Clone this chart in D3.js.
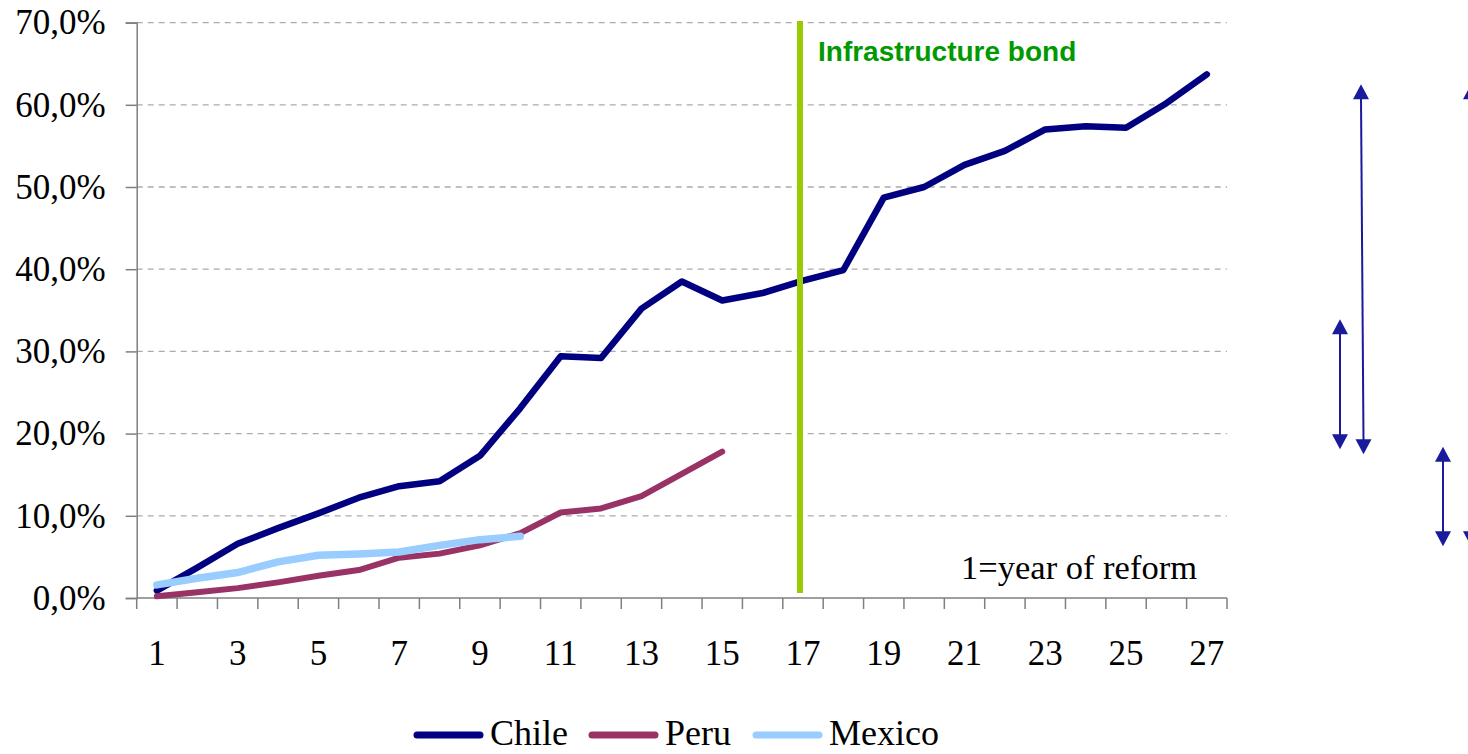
<!DOCTYPE html>
<html>
<head>
<meta charset="utf-8">
<script src="https://cdn.jsdelivr.net/npm/d3@7"></script>
<style>
  html, body { margin: 0; padding: 0; background: #ffffff; }
  svg { display: block; }
</style>
</head>
<body>
<svg id="chart" width="1468" height="754"></svg>
<script>
// Years since pension reform (1 = year of reform)
const years = d3.range(1, 28);

// Pension fund assets as share of GDP
const chile  = [0.009, 0.037, 0.066, 0.085, 0.103, 0.122, 0.136, 0.142, 0.173, 0.231, 0.294, 0.292,
                0.352, 0.385, 0.362, 0.371, 0.386, 0.399, 0.487, 0.500, 0.527, 0.544, 0.570, 0.574,
                0.572, 0.602, 0.637];
const peru   = [0.002, 0.007, 0.012, 0.019, 0.027, 0.034, 0.049, 0.054, 0.064, 0.079, 0.104, 0.109,
                0.124, 0.151, 0.178];
const mexico = [0.016, 0.024, 0.031, 0.044, 0.052, 0.0535, 0.056, 0.064, 0.071, 0.075];

const seriesNames  = ["Chile", "Peru", "Mexico"];
const seriesValues = [chile, peru, mexico];
const seriesColors = ["#000080", "#993366", "#99CCFF"];
const seriesWidths = [6.5, 6, 7.5];

const yTicks = [0, 0.1, 0.2, 0.3, 0.4, 0.5, 0.6, 0.7];
const xLabelYears = years.filter(d => d % 2 === 1);

// Year the infrastructure bond was introduced
const bondYear = 17;
const bondLabel = "Infrastructure bond";
const noteText = "1=year of reform";

// Double-headed range arrows beside the plot (value ranges)
const rangeArrows = [
  { x1: 1361, x2: 1363.5, top: 0.625, bottom: 0.175 },
  { x1: 1340, x2: 1340,   top: 0.339, bottom: 0.181 },
  { x1: 1443, x2: 1443,   top: 0.184, bottom: 0.063 },
  { x1: 1471, x2: 1471,   top: 0.625, bottom: 0.063 }
];

const svg = d3.select("#chart");
const plot = { left: 136.7, right: 1227, top: 22.6, bottom: 598 };

const x = d3.scaleBand().domain(years).range([plot.left, plot.right]).padding(0);
const xc = d => x(d) + x.bandwidth() / 2;
const y = d3.scaleLinear().domain([0, 0.7]).range([plot.bottom, plot.top]);

const serif = "'Liberation Serif', 'Times New Roman', serif";

// Horizontal dashed gridlines
svg.append("g")
  .selectAll("line")
  .data(yTicks.filter(d => d > 0))
  .join("line")
  .attr("x1", plot.left).attr("x2", plot.right)
  .attr("y1", d => y(d)).attr("y2", d => y(d))
  .attr("stroke", "#ababab")
  .attr("stroke-width", 1.3)
  .attr("stroke-dasharray", "6,5");

// Y axis
const yAxis = svg.append("g")
  .attr("transform", `translate(${plot.left},0)`)
  .call(d3.axisLeft(y)
    .tickValues(yTicks)
    .tickSize(11)
    .tickPadding(20)
    .tickFormat(d => (d * 100).toFixed(1).replace(".", ",") + "%"));
yAxis.select(".domain").attr("stroke", "#7f7f7f").attr("stroke-width", 1.5);
yAxis.selectAll(".tick line").attr("stroke", "#7f7f7f").attr("stroke-width", 1.5);
yAxis.selectAll(".tick text")
  .attr("font-family", serif)
  .attr("font-size", 35)
  .attr("fill", "#000");

// X axis: baseline, ticks at category boundaries, labels on odd years
const xAxis = svg.append("g");
xAxis.append("line")
  .attr("x1", plot.left).attr("x2", plot.right)
  .attr("y1", y(0)).attr("y2", y(0))
  .attr("stroke", "#7f7f7f").attr("stroke-width", 1.5);
const boundaries = years.map(d => x(d)).concat([x(years[years.length - 1]) + x.bandwidth()]);
xAxis.selectAll("line.tick")
  .data(boundaries)
  .join("line")
  .attr("class", "tick")
  .attr("x1", d => d).attr("x2", d => d)
  .attr("y1", y(0)).attr("y2", y(0) + 11)
  .attr("stroke", "#7f7f7f").attr("stroke-width", 1.5);
xAxis.selectAll("text")
  .data(xLabelYears)
  .join("text")
  .attr("x", d => xc(d))
  .attr("y", 665)
  .attr("text-anchor", "middle")
  .attr("font-family", serif)
  .attr("font-size", 35)
  .attr("fill", "#000")
  .text(d => d);

// Series lines
const line = d3.line()
  .x((d, i) => xc(years[i]))
  .y(d => y(d));

svg.append("g")
  .selectAll("path")
  .data(seriesValues)
  .join("path")
  .attr("d", d => line(d))
  .attr("fill", "none")
  .attr("stroke", (d, i) => seriesColors[i])
  .attr("stroke-width", (d, i) => seriesWidths[i])
  .attr("stroke-linejoin", "round")
  .attr("stroke-linecap", "round");

// Infrastructure bond marker
svg.append("line")
  .attr("x1", xc(bondYear) - 3).attr("x2", xc(bondYear) - 3)
  .attr("y1", y(0.7) - 1.5).attr("y2", y(0) - 5)
  .attr("stroke", "#99CC00")
  .attr("stroke-width", 6);
svg.append("text")
  .attr("x", 818)
  .attr("y", 61)
  .attr("font-family", "'Liberation Sans', Arial, sans-serif")
  .attr("font-weight", "bold")
  .attr("font-size", 28)
  .attr("fill", "#009A00")
  .text(bondLabel);

// Note on the reform year
svg.append("text")
  .attr("x", 1197)
  .attr("y", 579)
  .attr("text-anchor", "end")
  .attr("font-family", serif)
  .attr("font-size", 34.5)
  .attr("fill", "#000")
  .text(noteText);

// Range arrows
const arrowColor = "#1A1A9C";
const head = { w: 16, h: 15 };
const arrows = svg.append("g");
rangeArrows.forEach(a => {
  const yt = y(a.top), yb = y(a.bottom);
  arrows.append("line")
    .attr("x1", a.x1).attr("x2", a.x2)
    .attr("y1", yt + head.h - 1).attr("y2", yb - head.h + 1)
    .attr("stroke", arrowColor).attr("stroke-width", 2);
  arrows.append("path")
    .attr("d", `M${a.x1},${yt} L${a.x1 - head.w / 2},${yt + head.h} L${a.x1 + head.w / 2},${yt + head.h} Z`)
    .attr("fill", arrowColor);
  arrows.append("path")
    .attr("d", `M${a.x2},${yb} L${a.x2 - head.w / 2},${yb - head.h} L${a.x2 + head.w / 2},${yb - head.h} Z`)
    .attr("fill", arrowColor);
});

// Legend
const legendItems = [
  { name: seriesNames[0], color: seriesColors[0], lx: 414, tx: 490 },
  { name: seriesNames[1], color: seriesColors[1], lx: 589, tx: 665 },
  { name: seriesNames[2], color: seriesColors[2], lx: 753, tx: 829 }
];
const legend = svg.append("g");
legend.selectAll("line")
  .data(legendItems)
  .join("line")
  .attr("x1", d => d.lx + 3).attr("x2", d => d.lx + 66)
  .attr("y1", 735).attr("y2", 735)
  .attr("stroke", d => d.color)
  .attr("stroke-width", 7)
  .attr("stroke-linecap", "round");
legend.selectAll("text")
  .data(legendItems)
  .join("text")
  .attr("x", d => d.tx)
  .attr("y", 745)
  .attr("font-family", serif)
  .attr("font-size", 36)
  .attr("fill", "#000")
  .text(d => d.name);
</script>
</body>
</html>
